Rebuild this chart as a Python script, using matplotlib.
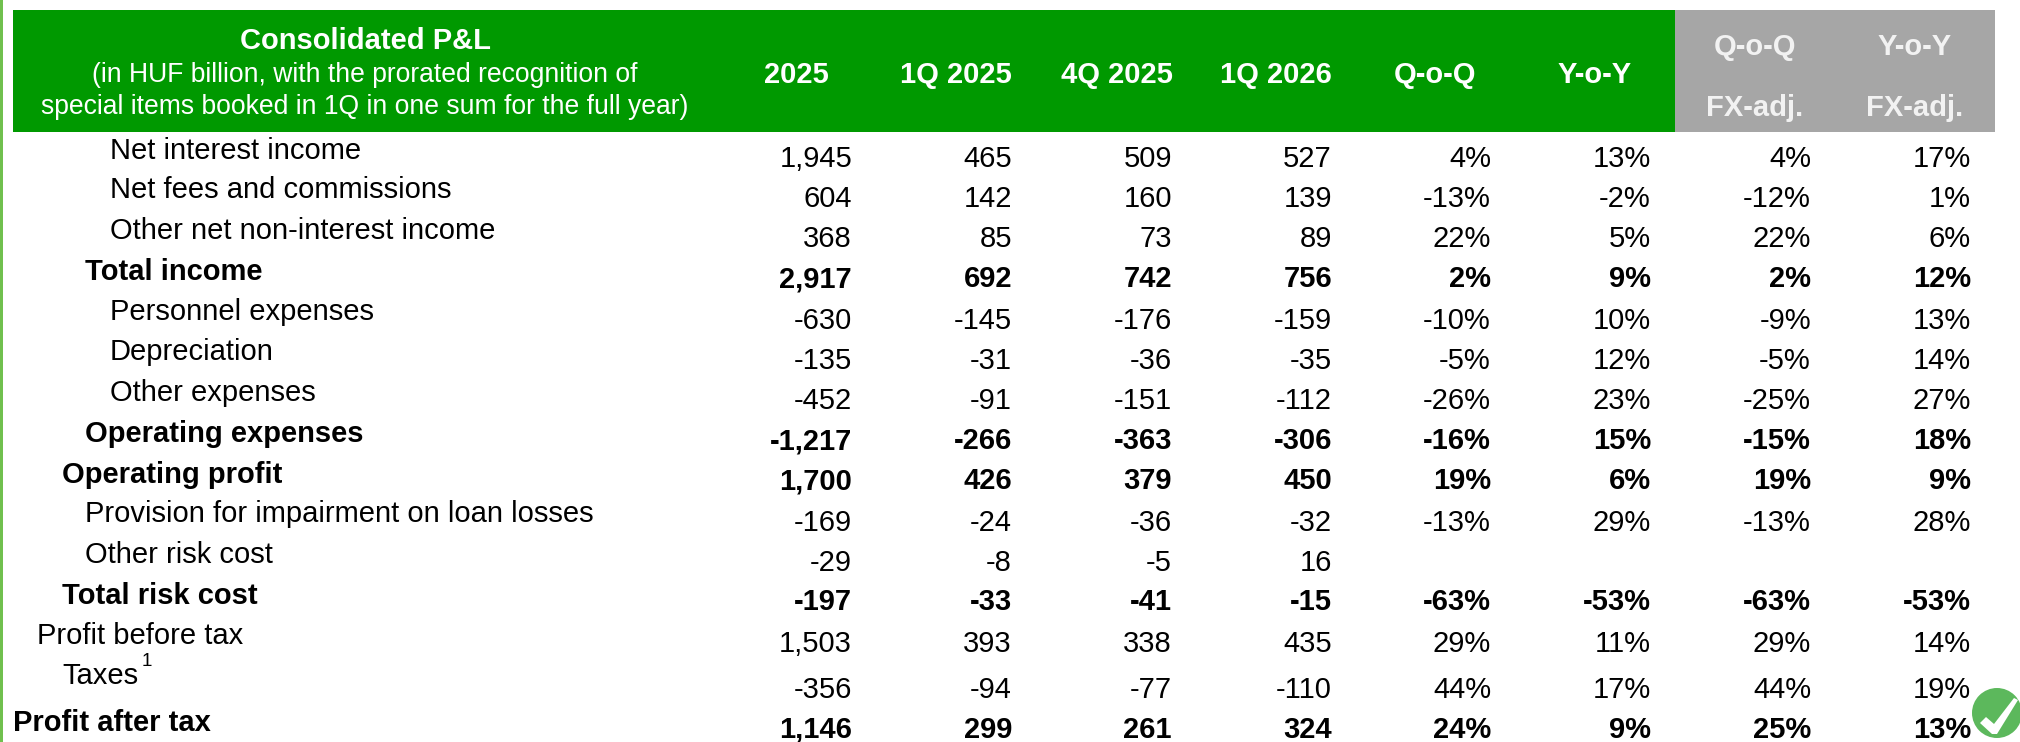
import matplotlib
matplotlib.use("Agg")
import matplotlib.pyplot as plt
from matplotlib.patches import Rectangle, Circle, Polygon

plt.rcParams['font.family'] = ['Liberation Sans', 'DejaVu Sans']

W, H = 2020, 742
FS = 21.0
FS_SUB = 19.1

title_lines = ["Consolidated P&L",
               "(in HUF billion, with the prorated recognition of",
               "special items booked in 1Q in one sum for the full year)"]
green_headers = ["2025", "1Q 2025", "4Q 2025", "1Q 2026", "Q-o-Q", "Y-o-Y"]
gray_headers = ["Q-o-Q", "Y-o-Y"]
gray_sub = ["FX-adj.", "FX-adj."]

labels = ["Net interest income", "Net fees and commissions", "Other net non-interest income",
          "Total income", "Personnel expenses", "Depreciation", "Other expenses",
          "Operating expenses", "Operating profit", "Provision for impairment on loan losses",
          "Other risk cost", "Total risk cost", "Profit before tax", "Taxes", "Profit after tax"]
indent = [3, 3, 3, 2, 3, 3, 3, 2, 1, 2, 2, 1, 0, 1, -1]
bold = [0, 0, 0, 1, 0, 0, 0, 1, 1, 0, 0, 1, 0, 0, 1]

fy2025 = ["1,945", "604", "368", "2,917", "-630", "-135", "-452", "-1,217", "1,700", "-169", "-29", "-197", "1,503", "-356", "1,146"]
q1_2025 = ["465", "142", "85", "692", "-145", "-31", "-91", "-266", "426", "-24", "-8", "-33", "393", "-94", "299"]
q4_2025 = ["509", "160", "73", "742", "-176", "-36", "-151", "-363", "379", "-36", "-5", "-41", "338", "-77", "261"]
q1_2026 = ["527", "139", "89", "756", "-159", "-35", "-112", "-306", "450", "-32", "16", "-15", "435", "-110", "324"]
qoq = ["4%", "-13%", "22%", "2%", "-10%", "-5%", "-26%", "-16%", "19%", "-13%", "", "-63%", "29%", "44%", "24%"]
yoy = ["13%", "-2%", "5%", "9%", "10%", "12%", "23%", "15%", "6%", "29%", "", "-53%", "11%", "17%", "9%"]
qoq_fx = ["4%", "-12%", "22%", "2%", "-9%", "-5%", "-25%", "-15%", "19%", "-13%", "", "-63%", "29%", "44%", "25%"]
yoy_fx = ["17%", "1%", "6%", "12%", "13%", "14%", "27%", "18%", "9%", "28%", "", "-53%", "14%", "19%", "13%"]
columns = [fy2025, q1_2025, q4_2025, q1_2026, qoq, yoy, qoq_fx, yoy_fx]

# layout (pixels)
label_y = [151, 190, 231, 272, 312, 352, 393, 434, 475, 514, 555, 596, 636, 676, 723]
value_y = [159, 199, 239, 279, 321, 361, 401, 441, 481, 523, 563, 602, 644, 690, 730]
indent_x = {-1: 13, 0: 37, 1: 62, 2: 85, 3: 110}
col_right = [852, 1012, 1172, 1332, 1491, 1651, 1811, 1971]
green_cx = [796, 956, 1117, 1276, 1435, 1595]
gray_cx = [1755, 1915]

fig = plt.figure(figsize=(W / 100, H / 100), dpi=100, facecolor='white')
ax = fig.add_axes([0, 0, 1, 1])
ax.set_xlim(0, W)
ax.set_ylim(H, 0)
ax.axis('off')

ax.add_patch(Rectangle((0, 0), 2.5, H, color='#70C04E', lw=0))
ax.add_patch(Rectangle((13, 10), 1662, 122, color='#009900', lw=0))
ax.add_patch(Rectangle((1675, 10), 320, 122, color='#A6A6A6', lw=0))

ty = [41, 75, 107]
for i, (t, y) in enumerate(zip(title_lines, ty)):
    ax.text(365, y, t, color='white', ha='center', va='center',
            fontsize=FS if i == 0 else FS_SUB,
            fontweight='bold' if i == 0 else 'normal')
for t, x in zip(green_headers, green_cx):
    ax.text(x, 75, t, color='white', ha='center', va='center', fontsize=FS, fontweight='bold')
for t, s, x in zip(gray_headers, gray_sub, gray_cx):
    ax.text(x, 47, t, color='#F2F2F2', ha='center', va='center', fontsize=FS, fontweight='bold')
    ax.text(x, 108, s, color='#F2F2F2', ha='center', va='center', fontsize=FS, fontweight='bold')

for i, lab in enumerate(labels):
    w = 'bold' if bold[i] else 'normal'
    ax.text(indent_x[indent[i]], label_y[i], lab, ha='left', va='center',
            fontsize=FS, fontweight=w, color='black')
    if lab == "Taxes":
        ax.text(142, label_y[i] - 14, "1", ha='left', va='center', fontsize=13.5, color='black')
    for col, x in zip(columns, col_right):
        if col[i]:
            ax.text(x, value_y[i], col[i], ha='right', va='center', fontsize=FS, fontweight=w, color='black')

ax.add_patch(Circle((1997, 713), 25, color='#5CB85C', lw=0, zorder=5, clip_on=True))
ax.add_patch(Polygon([(1980, 723), (1986, 717), (1994, 724), (2014, 698), (2018, 700), (1997, 734), (1992, 734)],
                     closed=True, color='white', lw=0, zorder=6))

fig.savefig("out.png", dpi=100, facecolor='white')
